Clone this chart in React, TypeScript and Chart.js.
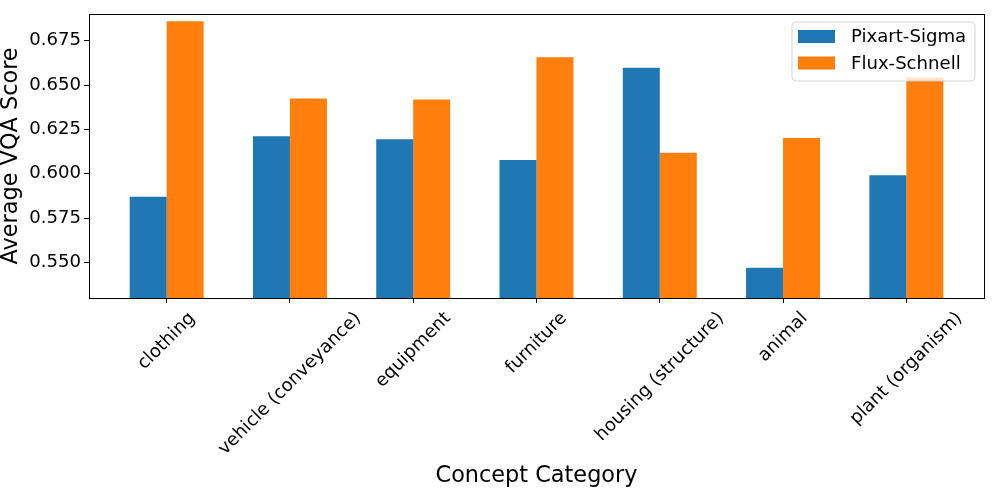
import React, { useEffect, useRef } from "react";
import { Chart, registerables } from "chart.js";

Chart.register(...registerables);

const categories = [
  "clothing",
  "vehicle (conveyance)",
  "equipment",
  "furniture",
  "housing (structure)",
  "animal",
  "plant (organism)",
];
const pixartSigma = [0.5871, 0.6211, 0.6194, 0.6077, 0.6598, 0.547, 0.5991];
const fluxSchnell = [0.686, 0.6424, 0.6418, 0.6656, 0.6118, 0.6201, 0.6543];
const seriesNames = ["Pixart-Sigma", "Flux-Schnell"];
const seriesColors = ["#1f77b4", "#ff7f0e"];
const yTicks = [0.55, 0.575, 0.6, 0.625, 0.65, 0.675];
const yTitle = "Average VQA Score";
const xTitle = "Concept Category";

const FONT = "'DejaVu Sans', Verdana, sans-serif";
const TICK_SIZE = 18.1;
const TITLE_SIZE = 22.4;

const overlayPlugin = {
  id: "mplOverlay",
  afterDraw(chart: any) {
    const ctx = chart.ctx as CanvasRenderingContext2D;
    const area = chart.chartArea;
    const xScale = chart.scales.x;
    ctx.save();

    // frame (spines)
    ctx.strokeStyle = "#000";
    ctx.lineWidth = 1;
    ctx.strokeRect(
      Math.round(area.left) + 0.5,
      Math.round(area.top) + 0.5,
      Math.round(area.right - area.left),
      Math.round(area.bottom - area.top)
    );

    // x tick labels rotated 45deg, centered like matplotlib
    ctx.fillStyle = "#000";
    ctx.font = `${TICK_SIZE}px ${FONT}`;
    ctx.textAlign = "center";
    ctx.textBaseline = "middle";
    const top = area.bottom + 10;
    const h = TICK_SIZE * 1.164;
    categories.forEach((label, i) => {
      const px = xScale.getPixelForValue(i);
      const w = ctx.measureText(label).width;
      const bboxH = (w + h) * Math.SQRT1_2;
      ctx.save();
      ctx.translate(px, top + bboxH / 2);
      ctx.rotate(-Math.PI / 4);
      ctx.fillText(label, 0, 0);
      ctx.restore();
    });

    // axis titles
    ctx.font = `${TITLE_SIZE}px ${FONT}`;
    ctx.textAlign = "center";
    ctx.textBaseline = "alphabetic";
    ctx.fillText(xTitle, (area.left + area.right) / 2, 482);
    ctx.save();
    ctx.translate(11, (area.top + area.bottom) / 2);
    ctx.rotate(-Math.PI / 2);
    ctx.textBaseline = "middle";
    ctx.fillText(yTitle, 0, 0);
    ctx.restore();

    // legend
    const lx = 792, ly = 22, lw = 183, lh = 59, r = 4;
    ctx.beginPath();
    ctx.moveTo(lx + r, ly);
    ctx.lineTo(lx + lw - r, ly);
    ctx.arcTo(lx + lw, ly, lx + lw, ly + r, r);
    ctx.lineTo(lx + lw, ly + lh - r);
    ctx.arcTo(lx + lw, ly + lh, lx + lw - r, ly + lh, r);
    ctx.lineTo(lx + r, ly + lh);
    ctx.arcTo(lx, ly + lh, lx, ly + lh - r, r);
    ctx.lineTo(lx, ly + r);
    ctx.arcTo(lx, ly, lx + r, ly, r);
    ctx.closePath();
    ctx.fillStyle = "rgba(255,255,255,0.8)";
    ctx.fill();
    ctx.strokeStyle = "rgba(204,204,204,0.8)";
    ctx.lineWidth = 1;
    ctx.stroke();

    ctx.font = `${TICK_SIZE}px ${FONT}`;
    ctx.textAlign = "left";
    ctx.textBaseline = "middle";
    chart.data.datasets.forEach((ds: any, i: number) => {
      const cy = 36.5 + i * 26.5;
      ctx.fillStyle = ds.backgroundColor;
      ctx.fillRect(798, cy - 6.5, 37, 13);
      ctx.fillStyle = "#000";
      ctx.fillText(ds.label, 851, cy + 1);
    });

    ctx.restore();
  },
};

export default function App() {
  const ref = useRef<HTMLCanvasElement | null>(null);

  useEffect(() => {
    if (!ref.current) return;
    const series = [pixartSigma, fluxSchnell];
    const chart = new Chart(ref.current, {
      type: "bar",
      data: {
        datasets: series.map((vals, s) => ({
          label: seriesNames[s],
          data: vals.map((v, i) => ({ x: i, y: v })),
          backgroundColor: seriesColors[s],
          borderWidth: 0,
          categoryPercentage: 0.6,
          barPercentage: 1.0,
        })),
      },
      options: {
        animation: false,
        responsive: false,
        devicePixelRatio: 1,
        layout: { padding: { top: 12, right: 13, left: 0, bottom: 0 } },
        plugins: {
          legend: { display: false },
          tooltip: { enabled: false },
        },
        scales: {
          x: {
            type: "linear",
            offset: false,
            min: -0.63,
            max: 6.63,
            afterBuildTicks: (scale: any) => {
              scale.ticks = categories.map((_, i) => ({ value: i }));
            },
            afterFit: (scale: any) => {
              scale.height = 200;
            },
            ticks: { display: false },
            grid: {
              display: true,
              drawOnChartArea: false,
              drawTicks: true,
              tickLength: 5,
              color: "#000",
              offset: false,
            },
            border: { display: false },
          },
          y: {
            type: "linear",
            min: 0.53,
            max: 0.6901,
            afterBuildTicks: (scale: any) => {
              scale.ticks = yTicks.map((v) => ({ value: v }));
            },
            afterFit: (scale: any) => {
              scale.width = 89;
            },
            ticks: {
              color: "#000",
              padding: 3,
              font: { family: FONT, size: TICK_SIZE },
              callback: (v: any) => Number(v).toFixed(3),
            },
            grid: {
              display: true,
              drawOnChartArea: false,
              drawTicks: true,
              tickLength: 5,
              color: "#000",
            },
            border: { display: false },
          },
        },
      },
      plugins: [overlayPlugin],
    });
    return () => chart.destroy();
  }, []);

  return (
    <div style={{ position: "absolute", left: 0, top: 0, width: 997, height: 498, background: "#fff" }}>
      <canvas ref={ref} width={997} height={498} style={{ display: "block" }} />
    </div>
  );
}
